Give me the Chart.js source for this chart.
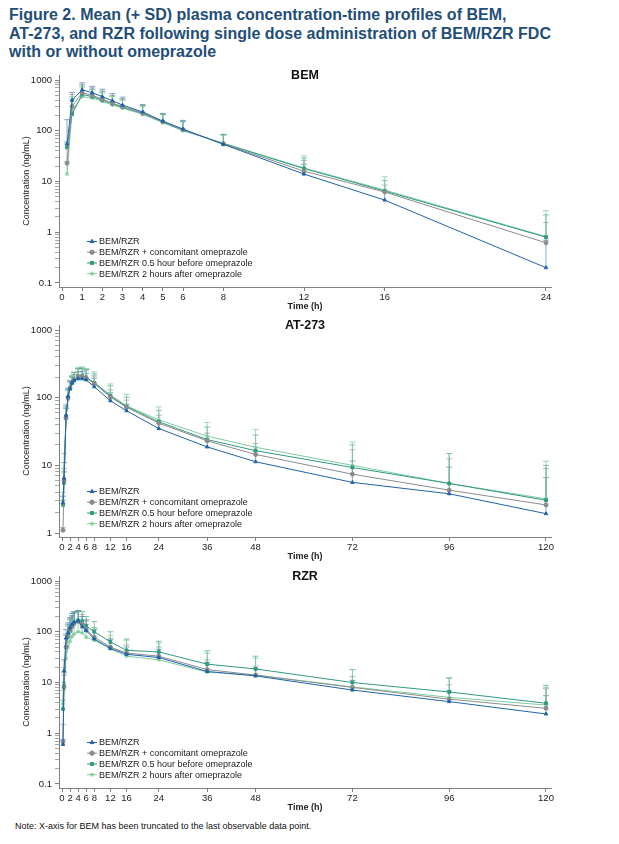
<!DOCTYPE html>
<html lang="en">
<head>
  <meta charset="UTF-8">
  <title>Figure 2. Mean (+ SD) plasma concentration-time profiles</title>
  <script src="https://cdn.jsdelivr.net/npm/chart.js"></script>
  <style>
    body {
      margin: 0;
      background: #ffffff;
      font-family: 'Liberation Sans', Arial, sans-serif;
    }
    .page {
      position: relative;
      width: 619px;
      height: 844px;
      overflow: hidden;
    }
    .fig-title {
      position: absolute;
      left: 9px;
      top: 6px;
      font-weight: bold;
      font-size: 16px;
      line-height: 18.5px;
      color: #1f4e79;
      white-space: nowrap;
    }
    canvas {
      position: absolute;
      left: 0;
    }
    .note {
      position: absolute;
      left: 15px;
      top: 820px;
      font-size: 9px;
      line-height: 12px;
      color: #111;
    }
  </style>
</head>
<body>
  <div class="page">
    <div class="fig-title">Figure 2. Mean (+ SD) plasma concentration-time profiles of BEM,<br>AT-273, and RZR following single dose administration of BEM/RZR FDC<br>with or without omeprazole</div>
    <canvas id="bemChart" width="619" height="250" style="top:62px"></canvas>
    <canvas id="atChart" width="619" height="250" style="top:312px"></canvas>
    <canvas id="rzrChart" width="619" height="250" style="top:563px"></canvas>
    <div class="note">Note: X-axis for BEM has been truncated to the last observable data point.</div>
  </div>

  <script>
    // ---- data ----
    const seriesNames = [
      'BEM/RZR',
      'BEM/RZR + concomitant omeprazole',
      'BEM/RZR 0.5 hour before omeprazole',
      'BEM/RZR 2 hours after omeprazole'
    ];

    // BEM
    const bemTimes = [0.25, 0.5, 1, 1.5, 2, 2.5, 3, 4, 5, 6, 8, 12, 16, 24];
    const bemXTicks = [0, 1, 2, 3, 4, 5, 6, 8, 12, 16, 24];
    const bemMean1 = [55, 400, 640, 560, 470, 390, 320, 235, 155, 108, 54, 14, 4.3, 0.2];
    const bemMean2 = [23, 300, 560, 500, 420, 350, 300, 225, 150, 105, 55, 16, 6.2, 0.62];
    const bemMean3 = [47, 215, 520, 470, 400, 340, 290, 220, 148, 103, 56, 18, 6.5, 0.8];
    const bemMean4 = [14, 250, 470, 440, 380, 320, 280, 210, 145, 100, 57, 18.5, 6.8, 0.82];
    const bemUpper1 = [165, 570, 880, 750, 660, 540, 460, 330, 220, 160, 85, 22, 6.6, 0.7];
    const bemUpper2 = [55, 520, 820, 700, 610, 500, 430, 320, 215, 155, 84, 26, 8.5, 1.55];
    const bemUpper3 = [60, 420, 760, 660, 580, 480, 410, 310, 210, 152, 83, 29, 10.5, 2.2];
    const bemUpper4 = [25, 470, 700, 640, 560, 470, 400, 300, 205, 150, 82, 32, 12.4, 2.65];

    // AT-273
    const atTimes = [0.25, 0.5, 1, 1.5, 2, 2.5, 3, 4, 5, 6, 8, 12, 16, 24, 36, 48, 72, 96, 120];
    const longXTicks = [0, 2, 4, 6, 8, 12, 16, 24, 36, 48, 72, 96, 120];
    const atMean1 = [2.8, 6.5, 55, 105, 135, 165, 180, 190, 190, 183, 145, 90, 64, 35, 18.7, 11.3, 5.6, 3.8, 1.93];
    const atMean2 = [1.1, 6, 50, 100, 140, 170, 185, 205, 205, 195, 162, 102, 72, 42, 23, 14.5, 7.4, 4.3, 2.6];
    const atMean3 = [2.6, 5.5, 50, 100, 140, 165, 180, 205, 210, 200, 165, 106, 74, 44, 24, 16.5, 9.3, 5.4, 3.05];
    const atMean4 = [3.0, 8, 55, 95, 135, 160, 180, 205, 210, 198, 168, 110, 76, 47, 27, 18.5, 10, 5.4, 3.2];
    const atUpper1 = [3.5, 11, 75, 135, 170, 200, 220, 240, 245, 230, 195, 118, 80, 45, 23, 16, 11.6, 9.4, 6.6];
    const atUpper2 = [1.2, 9, 70, 130, 180, 210, 235, 265, 270, 255, 210, 130, 92, 55, 30, 21, 17, 12.5, 9];
    const atUpper3 = [3, 8, 70, 130, 175, 205, 235, 270, 275, 260, 225, 150, 102, 65, 37, 28, 20, 15, 10];
    const atUpper4 = [4, 15, 80, 140, 180, 210, 240, 280, 285, 270, 240, 160, 112, 73, 43, 34, 22, 15, 11.5];

    // RZR
    const rzrTimes = [0.25, 0.5, 1, 1.5, 2, 2.5, 3, 4, 5, 6, 8, 12, 16, 24, 36, 48, 72, 96, 120];
    const rzrMean1 = [0.6, 17, 75, 95, 120, 140, 155, 165, 125, 105, 72, 47, 36, 31, 16.5, 13.5, 7.1, 4.2, 2.4];
    const rzrMean2 = [0.68, 8, 50, 80, 105, 125, 145, 160, 140, 110, 78, 50, 38, 33, 18, 14, 8.0, 4.7, 3.1];
    const rzrMean3 = [3.0, 8.5, 50, 85, 110, 130, 150, 165, 160, 130, 100, 63, 43, 40, 23, 18.5, 10, 6.5, 3.9];
    const rzrMean4 = [3.8, 10, 30, 50, 65, 80, 90, 100, 95, 78, 68, 46, 33, 28, 16, 14, 8.2, 5.1, 3.6];
    const rzrUpper1 = [0.75, 28, 110, 150, 190, 230, 250, 260, 200, 165, 110, 70, 50, 45, 25, 19, 11, 7, 5.5];
    const rzrUpper2 = [1.5, 14, 85, 130, 170, 200, 230, 250, 220, 175, 120, 75, 55, 50, 28, 21, 13, 9, 7.5];
    const rzrUpper3 = [4.5, 16, 90, 140, 180, 210, 240, 260, 250, 200, 160, 100, 72, 65, 42, 33, 18, 12.4, 8.8];
    const rzrUpper4 = [7, 20, 60, 90, 120, 150, 170, 180, 170, 140, 120, 85, 68, 60, 38, 30, 18, 12, 8];

    // ---- styling ----
    const lineColors = ['#1f63aa', '#8c8c8c', '#2f9a80', '#80cc9e'];
    const barColors = ['rgba(31,99,170,0.55)', 'rgba(140,140,140,0.6)', 'rgba(47,154,128,0.6)', 'rgba(128,204,158,0.75)'];
    const markers = ['triangle', 'circle', 'rect', 'star'];
    const fontFam = "'Liberation Sans', Arial, sans-serif";
    const axisGrey = '#808080';

    Chart.defaults.font.family = fontFam;
    Chart.defaults.font.size = 9.5;
    Chart.defaults.color = '#222';

    // + SD bars, drawn from the mean up to mean+SD
    const sdBars = {
      id: 'sdBars',
      beforeDatasetsDraw(chart) {
        const { ctx, scales: { x, y } } = chart;
        ctx.save();
        ctx.lineWidth = 1;
        chart.data.datasets.forEach((ds, i) => {
          ctx.strokeStyle = barColors[i];
          ds.upper.forEach((u, j) => {
            const px = x.getPixelForValue(ds.data[j].x);
            const y0 = y.getPixelForValue(ds.data[j].y);
            const y1 = y.getPixelForValue(u);
            ctx.beginPath();
            ctx.moveTo(px, y0);
            ctx.lineTo(px, y1);
            ctx.moveTo(px - 3, y1);
            ctx.lineTo(px + 3, y1);
            ctx.stroke();
          });
        });
        ctx.restore();
      }
    };

    // panel name + legend inside the plot
    const panelDeco = {
      id: 'panelDeco',
      afterDraw(chart, args, opts) {
        const { ctx, chartArea } = chart;
        ctx.save();
        ctx.fillStyle = '#111';
        ctx.font = 'bold 12.5px ' + fontFam;
        ctx.textAlign = 'center';
        ctx.textBaseline = 'middle';
        ctx.fillText(opts.title, (chartArea.left + chartArea.right) / 2, chartArea.top + 1);

        const rows = [45.5, 34.8, 24, 13.3];
        ctx.font = '9px ' + fontFam;
        ctx.textAlign = 'left';
        chart.data.datasets.forEach((ds, i) => {
          const yy = chartArea.bottom - rows[i];
          const x0 = chartArea.left + 28;
          ctx.strokeStyle = lineColors[i];
          ctx.fillStyle = lineColors[i];
          ctx.lineWidth = 1;
          ctx.beginPath();
          ctx.moveTo(x0, yy);
          ctx.lineTo(x0 + 10, yy);
          ctx.stroke();
          if (Chart.helpers && Chart.helpers.drawPoint) {
            Chart.helpers.drawPoint(ctx, {
              pointStyle: markers[i], radius: 2.2, borderWidth: 1, rotation: 0
            }, x0 + 5, yy);
          }
          ctx.fillStyle = '#222';
          ctx.fillText(seriesNames[i], x0 + 12, yy + 0.5);
        });
        ctx.restore();
      }
    };

    function logTicks(lo, hi) {
      const out = [];
      for (let d = lo; d <= hi; d++) {
        for (let k = 1; k <= 9; k++) {
          if (d === hi && k > 1) break;
          out.push({ value: k * Math.pow(10, d), major: k === 1 });
        }
      }
      return out;
    }

    function makePanel(id, title, times, means, uppers, xTicks, xMin, xMax, yMin, yMax, yLo, yHi) {
      const datasets = means.map((m, i) => ({
        label: seriesNames[i],
        data: times.map((t, j) => ({ x: t, y: m[j] })),
        upper: uppers[i],
        borderColor: lineColors[i],
        backgroundColor: lineColors[i],
        borderWidth: 1,
        pointStyle: markers[i],
        pointRadius: 2,
        pointBorderWidth: 1,
        tension: 0
      }));

      new Chart(document.getElementById(id), {
        type: 'line',
        data: { datasets },
        options: {
          responsive: false,
          animation: false,
          layout: { padding: { left: 0, right: 68, top: 13, bottom: 0 } },
          plugins: {
            legend: { display: false },
            tooltip: { enabled: false },
            panelDeco: { title }
          },
          scales: {
            x: {
              type: 'linear',
              min: xMin,
              max: xMax,
              afterBuildTicks: s => { s.ticks = xTicks.map(v => ({ value: v })); },
              afterFit: s => { s.height = 25; },
              grid: { drawOnChartArea: false, drawTicks: true, tickLength: 4, color: axisGrey },
              border: { color: axisGrey, width: 1 },
              ticks: { autoSkip: false, maxRotation: 0, padding: 1, callback: v => String(v) },
              title: {
                display: true, text: 'Time (h)',
                font: { size: 9, weight: 'bold' },
                padding: { top: 0, bottom: 0 }
              }
            },
            y: {
              type: 'logarithmic',
              min: yMin,
              max: yMax,
              afterBuildTicks: s => { s.ticks = logTicks(yLo, yHi); },
              afterFit: s => { s.width = 59; },
              grid: {
                drawOnChartArea: false, drawTicks: true, tickLength: 4,
                color: axisGrey,
                tickWidth: c => (c.tick && c.tick.major ? 1 : 0.7)
              },
              border: { color: axisGrey, width: 1 },
              ticks: {
                autoSkip: false,
                callback: (v, i, ticks) => (ticks[i].major ? String(v) : '')
              },
              title: {
                display: true, text: 'Concentration (ng/mL)',
                font: { size: 9 },
                padding: { top: 21, bottom: 0 }
              }
            }
          }
        },
        plugins: [sdBars, panelDeco]
      });
    }

    makePanel('bemChart', 'BEM', bemTimes,
      [bemMean1, bemMean2, bemMean3, bemMean4],
      [bemUpper1, bemUpper2, bemUpper3, bemUpper4],
      bemXTicks, -0.149, 24.248, 0.0834, 1255, -1, 3);

    makePanel('atChart', 'AT-273', atTimes,
      [atMean1, atMean2, atMean3, atMean4],
      [atUpper1, atUpper2, atUpper3, atUpper4],
      longXTicks, -0.744, 121.24, 0.873, 1186, 0, 3);

    makePanel('rzrChart', 'RZR', rzrTimes,
      [rzrMean1, rzrMean2, rzrMean3, rzrMean4],
      [rzrUpper1, rzrUpper2, rzrUpper3, rzrUpper4],
      longXTicks, -0.744, 121.24, 0.0834, 1255, -1, 3);
  </script>
</body>
</html>
